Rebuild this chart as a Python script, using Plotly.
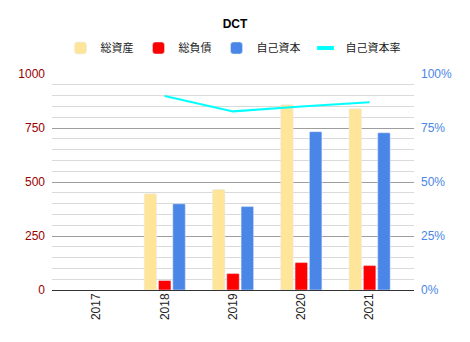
import plotly.graph_objects as go

years = ["2017", "2018", "2019", "2020", "2021"]
total_assets = [None, 446, 465, 858, 839]
total_liabilities = [None, 44, 76, 127, 113]
equity = [None, 399, 386, 733, 728]
equity_ratio = [None, 0.898, 0.827, 0.849, 0.869]

FONT = "Liberation Sans, Arial, Noto Sans CJK JP, sans-serif"
CYAN = "#00FFFF"

fig = go.Figure()
fig.add_trace(go.Bar(x=years, y=total_assets, name="総資産",
                     marker=dict(color="#FFE599", cornerradius=1)))
fig.add_trace(go.Bar(x=years, y=total_liabilities, name="総負債",
                     marker=dict(color="#FF0000", cornerradius=1)))
fig.add_trace(go.Bar(x=years, y=equity, name="自己資本",
                     marker=dict(color="#4A86E8", cornerradius=1)))
fig.add_trace(go.Scatter(x=years, y=equity_ratio, name="自己資本率", yaxis="y2",
                         mode="lines", line=dict(color=CYAN, width=2),
                         showlegend=False, legendgroup="ratio"))
# compact legend swatch for the ratio line
fig.add_trace(go.Scatter(x=[None], y=[None], name="自己資本率", yaxis="y2",
                         mode="markers", legendgroup="ratio",
                         marker=dict(symbol="line-ew", size=12,
                                     line=dict(color=CYAN, width=4))))

fig.update_layout(
    width=470, height=342,
    margin=dict(l=52, r=56, t=74, b=52, autoexpand=False),
    paper_bgcolor="white", plot_bgcolor="white",
    font=dict(family=FONT, size=12, color="#222222"),
    title=dict(text="<b>DCT</b>", x=0.5, xanchor="center", y=1 - 24 / 342,
               yanchor="middle", font=dict(size=12, color="#000000")),
    legend=dict(orientation="h", x=0.5, xanchor="center", yref="container",
                y=1 - 48 / 342, yanchor="middle", font=dict(size=11, color="#222222"),
                traceorder="normal"),
    barmode="group", bargap=0.37, bargroupgap=0.13,
    xaxis=dict(type="category", range=[-0.65, 4.65], tickangle=-90, automargin=False,
               showgrid=False, ticks="", tickfont=dict(size=12, color="#222222")),
    yaxis=dict(range=[0, 1000], dtick=250, tickfont=dict(size=12, color="#990000"),
               gridcolor="#9E9E9E", gridwidth=1, zeroline=True, zerolinecolor="#333333",
               zerolinewidth=1, ticks="", automargin=False, ticklabelstandoff=6,
               minor=dict(dtick=50, showgrid=True, gridcolor="#DADADA", gridwidth=1)),
    yaxis2=dict(range=[0, 1], dtick=0.25, tickformat=".0%", overlaying="y", side="right",
                showgrid=False, zeroline=False, ticks="", automargin=False,
                ticklabelstandoff=6, tickfont=dict(size=12, color="#4A86E8")),
)

fig.write_html("out.html")
